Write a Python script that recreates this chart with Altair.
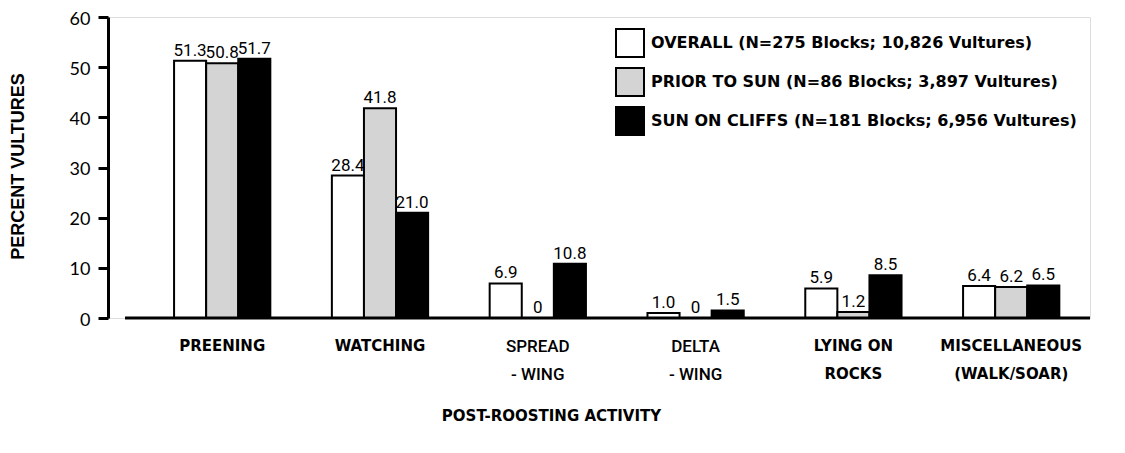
import altair as alt
import pandas as pd

activities = ["PREENING", "WATCHING", "SPREAD|- WING", "DELTA|- WING",
              "LYING ON|ROCKS", "MISCELLANEOUS|(WALK/SOAR)"]
series = ["OVERALL (N=275 Blocks; 10,826 Vultures)",
          "PRIOR TO SUN (N=86 Blocks; 3,897 Vultures)",
          "SUN ON CLIFFS (N=181 Blocks; 6,956 Vultures)"]
overall = [51.3, 28.4, 6.9, 1.0, 5.9, 6.4]
prior = [50.8, 41.8, 0, 0, 1.2, 6.2]
sun = [51.7, 21.0, 10.8, 1.5, 8.5, 6.5]
colors = ["#ffffff", "#d4d4d4", "#000000"]

rows = []
for s, vals in zip(series, [overall, prior, sun]):
    for a, v in zip(activities, vals):
        rows.append({"activity": a, "series": s, "value": v})
df = pd.DataFrame(rows)

W, H = 982, 301
BOLD = "DejaVu Sans"
WING = "indexof(datum.value, 'WING') >= 0"

xenc = alt.X("activity:N", sort=activities,
             scale=alt.Scale(paddingInner=0.39, paddingOuter=0.3065, align=0.683),
             axis=alt.Axis(title="POST-ROOSTING ACTIVITY", labelExpr="split(datum.label, '|')",
                           labelAngle=0,
                           labelFont={"condition": {"test": WING, "value": "Roboto"}, "value": BOLD},
                           labelFontWeight={"condition": {"test": WING, "value": 500},
                                            "value": "bold"},
                           labelFontSize={"condition": {"test": WING, "value": 17}, "value": 15},
                           labelLineHeight=28, labelPadding=20, labelColor="black",
                           ticks=False, domain=False,
                           titleFont=BOLD, titleFontWeight="bold", titleFontSize=15,
                           titleColor="black", titleX=443, titleY=97, titleBaseline="middle"))
xoff = alt.XOffset("series:N", sort=series, scale=alt.Scale(paddingInner=0, paddingOuter=0))

base = alt.Chart(df)

bars = base.mark_bar(stroke="black", strokeWidth=2).encode(
    x=xenc,
    xOffset=xoff,
    y=alt.Y("value:Q", scale=alt.Scale(domain=[0, 60], nice=False),
            axis=alt.Axis(title="PERCENT VULTURES", values=[0, 10, 20, 30, 40, 50, 60],
                          grid=False, domainWidth=3, domainColor="black",
                          tickSize=10, tickWidth=3, tickColor="black",
                          labelFont="Lato", labelFontSize=18, labelColor="black", labelPadding=8,
                          labelOffset=2,
                          titleFont="Liberation Sans", titleFontWeight="bold", titleFontSize=18,
                          titleColor="black", titleX=-90, titleY=149, titleBaseline="middle")),
    fill=alt.Fill("series:N", scale=alt.Scale(domain=series, range=colors),
                  legend=alt.Legend(title=None, orient="none", legendX=507, legendY=11,
                                    symbolType="square", symbolSize=784,
                                    symbolStrokeColor="black", symbolStrokeWidth=2,
                                    labelFont=BOLD, labelFontWeight="bold", labelFontSize=16,
                                    labelColor="black", labelLimit=700, labelOffset=6,
                                    rowPadding=3)),
)

labels = base.transform_calculate(
    lab="datum.value == 0 ? '0' : format(datum.value, '.1f')"
).mark_text(baseline="bottom", dy=-1, font="Roboto", fontSize=17,
            color="black").encode(
    x=alt.X("activity:N", sort=activities),
    xOffset=xoff,
    y="value:Q",
    text="lab:N",
)

baseline = alt.Chart(pd.DataFrame({"z": [0]})).mark_rule(
    color="black", strokeWidth=3).encode(
    y="z:Q", x=alt.value(17), x2=alt.value(W))

chart = alt.layer(bars, labels, baseline).properties(
    width=W, height=H,
    autosize=alt.AutoSizeParams(type="none"),
    padding={"left": 100, "top": 9, "right": 27, "bottom": 120},
).configure_view(stroke=None).configure(background="white")

chart.save("out.html", embed_options={"renderer": "svg", "actions": False})
